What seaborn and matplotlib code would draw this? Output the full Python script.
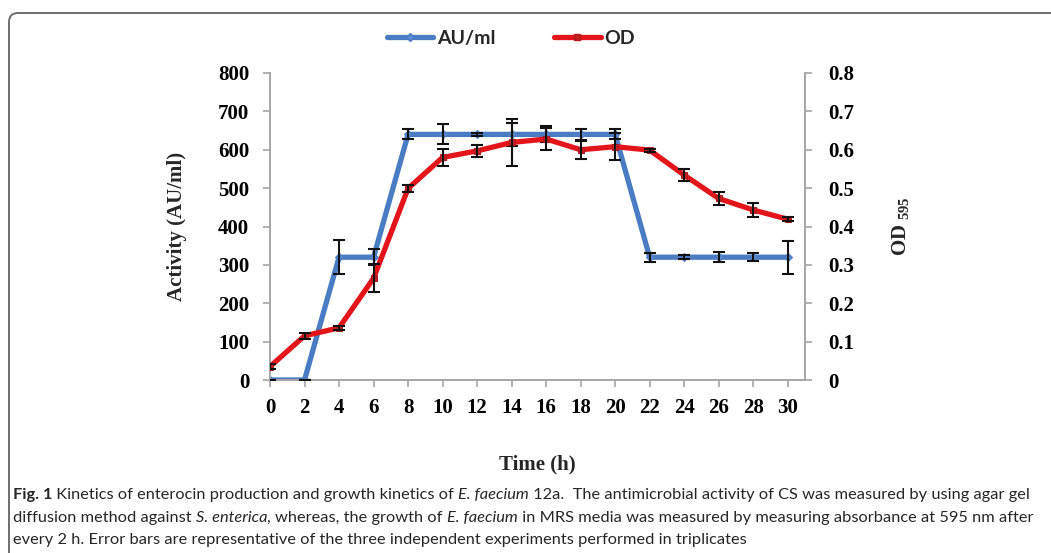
import matplotlib
matplotlib.use("Agg")
import matplotlib.pyplot as plt
from matplotlib.patches import FancyBboxPatch
from matplotlib.transforms import IdentityTransform
from matplotlib.lines import Line2D
import pandas as pd
import seaborn as sns

# ---- data -------------------------------------------------------------
time_h = [0, 2, 4, 6, 8, 10, 12, 14, 16, 18, 20, 22, 24, 26, 28, 30]
activity_au = [0, 0, 320, 320, 640, 640, 640, 640, 640, 640, 640, 320, 320, 320, 320, 320]
activity_err = [0, 0, 44, 21, 13, 26, 4, 31, 21, 14, 13, 12, 5, 13, 11, 43]
od_595 = [0.035, 0.115, 0.136, 0.265, 0.499, 0.580, 0.597, 0.619, 0.628, 0.600,
          0.608, 0.599, 0.534, 0.473, 0.443, 0.419]
od_err = [0.006, 0.008, 0.006, 0.036, 0.008, 0.022, 0.016, 0.062, 0.028, 0.023,
          0.035, 0.004, 0.015, 0.018, 0.018, 0.005]
x_ticks = list(range(0, 31, 2))
left_ticks = list(range(0, 801, 100))
right_ticks = [0, 0.1, 0.2, 0.3, 0.4, 0.5, 0.6, 0.7, 0.8]
right_tick_labels = ["0", "0.1", "0.2", "0.3", "0.4", "0.5", "0.6", "0.7", "0.8"]

df = pd.DataFrame({"time": time_h, "au": activity_au, "au_err": activity_err,
                   "od": od_595, "od_err": od_err})

# ---- style ------------------------------------------------------------
sns.set_style("ticks")
plt.rcParams["font.family"] = ["Liberation Serif", "DejaVu Serif"]
plt.rcParams["mathtext.fontset"] = "custom"
plt.rcParams["mathtext.rm"] = "Liberation Serif:bold"
plt.rcParams["mathtext.bf"] = "Liberation Serif:bold"

BLUE = "#4A7CC4"
RED = "#E3151B"
SPINE = "#A6A6A6"

fig = plt.figure(figsize=(10.51, 5.53), dpi=100)
fig.patch.set_facecolor("white")

W, H = 1051, 553
ax = fig.add_axes([270 / W, 1 - 380 / H, (805 - 270) / W, (380 - 73) / H])
ax2 = ax.twinx()

# ---- activity (left axis) --------------------------------------------
sns.lineplot(data=df, x="time", y="au", ax=ax, color=BLUE, linewidth=3.8,
             marker="D", markersize=4, markerfacecolor="#5B8BD0",
             markeredgecolor=BLUE, legend=False, zorder=2)
ax.errorbar(df["time"], df["au"], yerr=df["au_err"], fmt="none",
            ecolor="#111111", elinewidth=1.5, capsize=4, capthick=1.5, zorder=3)

# ---- optical density (right axis) ------------------------------------
sns.lineplot(data=df, x="time", y="od", ax=ax2, color=RED, linewidth=3.8,
             marker="s", markersize=5, markerfacecolor="#C81E22",
             markeredgecolor="#B01A1E", legend=False, zorder=2)
ax2.errorbar(df["time"], df["od"], yerr=df["od_err"], fmt="none",
             ecolor="#111111", elinewidth=1.5, capsize=4, capthick=1.5, zorder=3)

ax.set_xlim(0, 31)
ax.set_ylim(0, 800)
ax2.set_ylim(0, 0.8)
ax.set_xticks(x_ticks)
ax.set_xticklabels([str(t) for t in x_ticks])
ax.set_yticks(left_ticks)
ax.set_yticklabels([str(t) for t in left_ticks])
ax2.set_yticks(right_ticks)
ax2.set_yticklabels(right_tick_labels)

for a in (ax, ax2):
    a.spines["top"].set_visible(False)
    for s in ("left", "right", "bottom"):
        a.spines[s].set_color(SPINE)
        a.spines[s].set_linewidth(1.4)
    a.tick_params(axis="both", which="both", color=SPINE, width=1.2, length=5,
                  direction="out", labelsize=15, labelcolor="black")
    for lab in a.get_xticklabels() + a.get_yticklabels():
        lab.set_fontweight("bold")
ax.spines["right"].set_visible(False)
ax2.spines["left"].set_visible(False)
ax2.spines["bottom"].set_visible(False)
ax.tick_params(axis="y", pad=10)
ax.tick_params(axis="x", pad=8)
ax2.tick_params(axis="y", pad=12)

ax.set_xlabel("Time (h)", fontsize=15, fontweight="bold", labelpad=26)
ax.set_ylabel("Activity (AU/ml)", fontsize=15, fontweight="bold", labelpad=22)
ax2.set_ylabel(r"OD $_{595}$", fontsize=15, fontweight="bold", labelpad=26)

# ---- legend -----------------------------------------------------------
handles = [
    Line2D([], [], color=BLUE, linewidth=3.8, marker="D", markersize=4,
           markerfacecolor="#5B8BD0", markeredgecolor=BLUE),
    Line2D([], [], color=RED, linewidth=3.8, marker="s", markersize=5,
           markerfacecolor="#C81E22", markeredgecolor="#B01A1E"),
]
fig.legend(handles, ["AU/ml", "OD"], loc="center", bbox_to_anchor=(511 / W, 1 - 38 / H),
           ncol=2, frameon=False, handlelength=2.4, handletextpad=0.2,
           columnspacing=3.0, prop={"family": "Lato", "weight": "bold", "size": 14})

# ---- frame around the figure -----------------------------------------
frame = FancyBboxPatch((9, -30), 1120, H - 13 + 30,
                       boxstyle="round,pad=0,rounding_size=9",
                       transform=IdentityTransform(), facecolor="none",
                       edgecolor="#6E6E6E", linewidth=1.4)
fig.patches.append(frame)

# ---- caption ----------------------------------------------------------
caption_lines = [
    [("Fig. 1", "bold", "normal"),
     (" Kinetics of enterocin production and growth kinetics of ", "normal", "normal"),
     ("E. faecium", "normal", "italic"),
     (" 12a.  The antimicrobial activity of CS was measured by using agar gel", "normal", "normal")],
    [("diffusion method against ", "normal", "normal"),
     ("S. enterica", "normal", "italic"),
     (", whereas, the growth of ", "normal", "normal"),
     ("E. faecium", "normal", "italic"),
     (" in MRS media was measured by measuring absorbance at 595 nm after", "normal", "normal")],
    [("every 2 h. Error bars are representative of the three independent experiments performed in triplicates",
      "normal", "normal")],
]
caption_y = [495, 518, 540]
CAP_FONT = "Lato"
CAP_COLOR = "#262626"

renderer = fig.canvas.get_renderer()


def run_widths(runs, size):
    total = 0.0
    for txt, weight, style in runs:
        t = fig.text(0, 0, txt, fontsize=size, family=CAP_FONT, weight=weight,
                     style=style, transform=IdentityTransform())
        total += t.get_window_extent(renderer).width
        t.remove()
    return total


base = 10.0
cap_size = base * (1030 - 13) / run_widths(caption_lines[0], base)

for runs, ypix in zip(caption_lines, caption_y):
    x = 13.0
    for txt, weight, style in runs:
        t = fig.text(x, H - ypix, txt, fontsize=cap_size, family=CAP_FONT,
                     weight=weight, style=style, color=CAP_COLOR,
                     va="center", ha="left", transform=IdentityTransform())
        x += t.get_window_extent(renderer).width

fig.savefig("out.png", dpi=100, facecolor="white")
